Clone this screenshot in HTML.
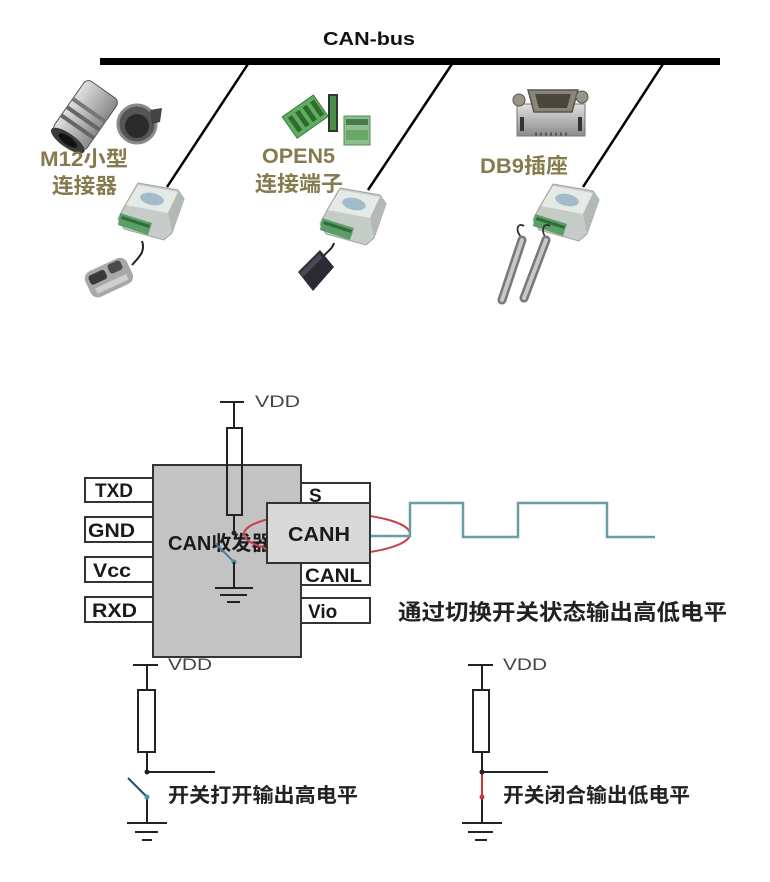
<!DOCTYPE html>
<html><head><meta charset="utf-8"><style>
html,body{margin:0;padding:0;background:#fff;}
svg{display:block;}
text{font-family:"Liberation Sans","Noto Sans CJK SC",sans-serif;}
</style></head><body>
<svg width="770" height="882" viewBox="0 0 770 882" xmlns="http://www.w3.org/2000/svg">
<defs>
<linearGradient id="metal" x1="0" y1="0" x2="1" y2="0">
<stop offset="0" stop-color="#6d6d6d"/><stop offset="0.4" stop-color="#d5d5d5"/><stop offset="0.7" stop-color="#9a9a9a"/><stop offset="1" stop-color="#555"/>
</linearGradient>
<linearGradient id="metal2" x1="0" y1="0" x2="0" y2="1">
<stop offset="0" stop-color="#e0e0e0"/><stop offset="1" stop-color="#8a8a8a"/>
</linearGradient>
<g id="module">
<polygon points="20,0 60,7 66,16 54,50 46,57 6,46 0,36 6,24" fill="#c6ccc7" stroke="#9ea6a0" stroke-width="1"/>
<polygon points="20,2 60,9 50,30 8,22" fill="#e6eae6"/>
<polygon points="60,9 66,17 54,50 50,30" fill="#b3bab5"/>
<ellipse cx="34" cy="16" rx="12" ry="6" transform="rotate(12 34 16)" fill="#a3bccb"/>
<polygon points="2,30 34,40 30,52 0,42" fill="#5b9e68"/>
<polygon points="4,33 32,42 31,45 3,36" fill="#2f6e3c"/>
</g>
</defs>

<!-- CAN bus -->
<text x="323" y="45" font-size="18" font-weight="bold" fill="#111" textLength="92" lengthAdjust="spacingAndGlyphs">CAN-bus</text>
<rect x="100" y="58" width="620" height="7" fill="#000"/>
<line x1="248" y1="64" x2="167" y2="187" stroke="#000" stroke-width="2.5"/>
<line x1="452" y1="64" x2="368" y2="190" stroke="#000" stroke-width="2.5"/>
<line x1="663" y1="64" x2="583" y2="187" stroke="#000" stroke-width="2.5"/>

<!-- M12 connectors -->
<g transform="rotate(-55 85 116)">
<rect x="55" y="96" width="62" height="40" rx="6" fill="url(#metal2)" stroke="#555" stroke-width="1"/>
<rect x="70" y="96" width="4" height="40" fill="#666"/>
<rect x="80" y="96" width="4" height="40" fill="#666"/>
<rect x="90" y="96" width="4" height="40" fill="#777"/>
<ellipse cx="55" cy="116" rx="7" ry="20" fill="#3a3a3a"/>
<ellipse cx="55" cy="116" rx="4" ry="11" fill="#111"/>
</g>
<circle cx="137" cy="124" r="19" fill="#555" stroke="#8a8a8a" stroke-width="3"/>
<circle cx="137" cy="126" r="12" fill="#2a2a2a"/>
<polygon points="150,110 162,108 160,122 152,124" fill="#444"/>

<!-- OPEN5 terminals -->
<g transform="rotate(-35 305 118)">
<rect x="287" y="104" width="38" height="26" fill="#5fae5f" stroke="#3c7a3c" stroke-width="1"/>
<rect x="291" y="108" width="5" height="18" fill="#2f6b2f"/>
<rect x="300" y="108" width="5" height="18" fill="#2f6b2f"/>
<rect x="309" y="108" width="5" height="18" fill="#2f6b2f"/>
<rect x="318" y="108" width="5" height="18" fill="#2f6b2f"/>
</g>
<rect x="328" y="94" width="10" height="38" fill="#2e3a2e"/>
<rect x="330" y="96" width="6" height="34" fill="#4c8c4c"/>
<rect x="344" y="116" width="26" height="29" fill="#8cbf8c" stroke="#5a8a5a" stroke-width="1"/>
<rect x="346" y="119" width="22" height="6" fill="#4a7a4a"/>
<rect x="346" y="130" width="22" height="10" fill="#6aa86a"/>

<!-- DB9 -->
<rect x="517" y="104" width="68" height="32" fill="url(#metal2)" stroke="#777" stroke-width="1"/>
<path d="M528,90 L578,90 L572,112 L534,112 Z" fill="#8a8676" stroke="#555" stroke-width="1.5"/>
<path d="M535,94 L571,94 L567,108 L539,108 Z" fill="#4a463c"/>
<circle cx="519" cy="100" r="6" fill="#9a9686" stroke="#555"/>
<circle cx="582" cy="97" r="6" fill="#9a9686" stroke="#555"/>
<rect x="520" y="117" width="4" height="14" fill="#333"/>
<rect x="578" y="117" width="4" height="14" fill="#333"/>
<line x1="535" y1="134" x2="570" y2="134" stroke="#555" stroke-width="3" stroke-dasharray="2 3"/>

<!-- connector labels -->
<g font-weight="bold" fill="#857b4e" font-size="21">
<text x="40" y="166" textLength="88" lengthAdjust="spacingAndGlyphs">M12小型</text>
<text x="52" y="193" textLength="65" lengthAdjust="spacingAndGlyphs">连接器</text>
<text x="262" y="163" textLength="73" lengthAdjust="spacingAndGlyphs">OPEN5</text>
<text x="255" y="191" textLength="88" lengthAdjust="spacingAndGlyphs">连接端子</text>
<text x="480" y="173" textLength="88" lengthAdjust="spacingAndGlyphs">DB9插座</text>
</g>

<!-- modules -->
<use href="#module" transform="translate(118,183)"/>
<use href="#module" transform="translate(320,188)"/>
<use href="#module" transform="translate(533,184)"/>

<!-- device 1 plug -->
<path d="M142,241 C146,252 138,258 132,265" fill="none" stroke="#222" stroke-width="2"/>
<g transform="rotate(-25 108 278)">
<rect x="86" y="264" width="46" height="28" rx="8" fill="#a8a8a8"/>
<rect x="90" y="268" width="18" height="10" rx="3" fill="#3a3a3a"/>
<rect x="112" y="266" width="14" height="10" rx="3" fill="#4a4a4a"/>
<rect x="92" y="282" width="34" height="6" fill="#cfcfcf"/>
</g>

<!-- device 2 black box -->
<path d="M334,243 C332,250 326,252 323,257" fill="none" stroke="#222" stroke-width="2"/>
<polygon points="298,272 320,250 334,267 313,291" fill="#2b2b35"/>
<polygon points="300,273 320,253 322,258 303,277" fill="#4a4a58"/>

<!-- device 3 probes -->
<path d="M522,238 C514,230 518,222 524,226" fill="none" stroke="#333" stroke-width="1.8"/>
<path d="M546,238 C540,230 544,222 550,226" fill="none" stroke="#333" stroke-width="1.8"/>
<line x1="522" y1="240" x2="502" y2="300" stroke="#777" stroke-width="9" stroke-linecap="round"/>
<line x1="522" y1="240" x2="502" y2="300" stroke="#c8c8c8" stroke-width="4" stroke-linecap="round"/>
<line x1="546" y1="240" x2="524" y2="298" stroke="#777" stroke-width="9" stroke-linecap="round"/>
<line x1="546" y1="240" x2="524" y2="298" stroke="#c8c8c8" stroke-width="4" stroke-linecap="round"/>

<!-- ===== chip schematic ===== -->
<rect x="153" y="465" width="148" height="192" fill="#c3c3c3" stroke="#333" stroke-width="2"/>
<g fill="#fff" stroke="#333" stroke-width="2">
<rect x="85" y="478" width="68" height="24"/>
<rect x="85" y="517" width="68" height="25"/>
<rect x="85" y="557" width="68" height="25"/>
<rect x="85" y="597" width="68" height="25"/>
<rect x="301" y="483" width="69" height="25"/>
<rect x="301" y="560" width="69" height="25"/>
<rect x="301" y="598" width="69" height="25"/>
</g>
<g font-weight="bold" fill="#1a1a1a" font-size="19">
<text x="95" y="497" textLength="38" lengthAdjust="spacingAndGlyphs">TXD</text>
<text x="88" y="537" textLength="47" lengthAdjust="spacingAndGlyphs">GND</text>
<text x="93" y="577" textLength="38" lengthAdjust="spacingAndGlyphs">Vcc</text>
<text x="92" y="617" textLength="45" lengthAdjust="spacingAndGlyphs">RXD</text>
<text x="309" y="502">S</text>
<text x="305" y="582" textLength="57" lengthAdjust="spacingAndGlyphs">CANL</text>
<text x="308" y="618">Vio</text>
</g>
<text x="168" y="550" font-size="20" font-weight="bold" fill="#1a1a1a">CAN收发器</text>

<!-- VDD + resistor inside chip -->
<line x1="220" y1="402" x2="244" y2="402" stroke="#222" stroke-width="2"/>
<line x1="234" y1="402" x2="234" y2="428" stroke="#222" stroke-width="2"/>
<rect x="227" y="428" width="15" height="87" fill="none" stroke="#222" stroke-width="2"/>
<text x="255" y="407" font-size="17" fill="#444" textLength="45" lengthAdjust="spacingAndGlyphs">VDD</text>
<line x1="234" y1="515" x2="234" y2="533" stroke="#222" stroke-width="2"/>
<circle cx="234" cy="533" r="2.5" fill="#222"/>
<line x1="215" y1="543" x2="234" y2="562" stroke="#4a7fa0" stroke-width="2"/>
<circle cx="234" cy="562" r="2.5" fill="#4a8f9a"/>
<line x1="234" y1="562" x2="234" y2="588" stroke="#222" stroke-width="2"/>
<line x1="215" y1="588" x2="253" y2="588" stroke="#222" stroke-width="2"/>
<line x1="220" y1="595" x2="247" y2="595" stroke="#222" stroke-width="2"/>
<line x1="227" y1="602" x2="240" y2="602" stroke="#222" stroke-width="2"/>

<!-- red ellipse -->
<ellipse cx="327" cy="534" rx="83" ry="21" fill="none" stroke="#c8424f" stroke-width="2"/>
<!-- CANH box -->
<rect x="267" y="503" width="103" height="60" fill="#d9d9d9" stroke="#333" stroke-width="2"/>
<text x="288" y="541" font-size="20" font-weight="bold" fill="#1a1a1a" textLength="62" lengthAdjust="spacingAndGlyphs">CANH</text>

<!-- waveform -->
<path d="M371,536 H410 V503 H463 V537 H518 V503 H607 V537 H655" fill="none" stroke="#6a9ea6" stroke-width="2.5"/>

<text x="398" y="620" font-size="22" font-weight="bold" fill="#222" textLength="329" lengthAdjust="spacingAndGlyphs">通过切换开关状态输出高低电平</text>

<!-- bottom left circuit -->
<g stroke="#222" stroke-width="2" fill="none">
<line x1="133" y1="665" x2="158" y2="665"/>
<line x1="147" y1="665" x2="147" y2="690"/>
<rect x="138" y="690" width="17" height="62"/>
<line x1="147" y1="752" x2="147" y2="772"/>
<line x1="147" y1="772" x2="215" y2="772"/>
<line x1="147" y1="797" x2="147" y2="823"/>
<line x1="127" y1="823" x2="167" y2="823"/>
<line x1="135" y1="832" x2="158" y2="832"/>
<line x1="142" y1="840" x2="152" y2="840"/>
</g>
<circle cx="147" cy="772" r="2.5" fill="#222"/>
<line x1="128" y1="778" x2="147" y2="797" stroke="#2a4a66" stroke-width="2"/>
<circle cx="147" cy="797" r="2.5" fill="#4a8fb0"/>
<text x="168" y="670" font-size="17" fill="#444" textLength="44" lengthAdjust="spacingAndGlyphs">VDD</text>
<text x="168" y="802" font-size="20" font-weight="bold" fill="#222" textLength="190" lengthAdjust="spacingAndGlyphs">开关打开输出高电平</text>

<!-- bottom right circuit -->
<g stroke="#222" stroke-width="2" fill="none">
<line x1="468" y1="665" x2="493" y2="665"/>
<line x1="482" y1="665" x2="482" y2="690"/>
<rect x="473" y="690" width="16" height="62"/>
<line x1="482" y1="752" x2="482" y2="772"/>
<line x1="482" y1="772" x2="548" y2="772"/>
<line x1="482" y1="797" x2="482" y2="823"/>
<line x1="462" y1="823" x2="502" y2="823"/>
<line x1="468" y1="832" x2="493" y2="832"/>
<line x1="475" y1="840" x2="487" y2="840"/>
</g>
<line x1="482" y1="772" x2="482" y2="797" stroke="#d0303a" stroke-width="2"/>
<circle cx="482" cy="772" r="2.5" fill="#222"/>
<circle cx="482" cy="797" r="2.5" fill="#d0303a"/>
<text x="503" y="670" font-size="17" fill="#444" textLength="44" lengthAdjust="spacingAndGlyphs">VDD</text>
<text x="503" y="802" font-size="20" font-weight="bold" fill="#222" textLength="187" lengthAdjust="spacingAndGlyphs">开关闭合输出低电平</text>
</svg>
</body></html>
